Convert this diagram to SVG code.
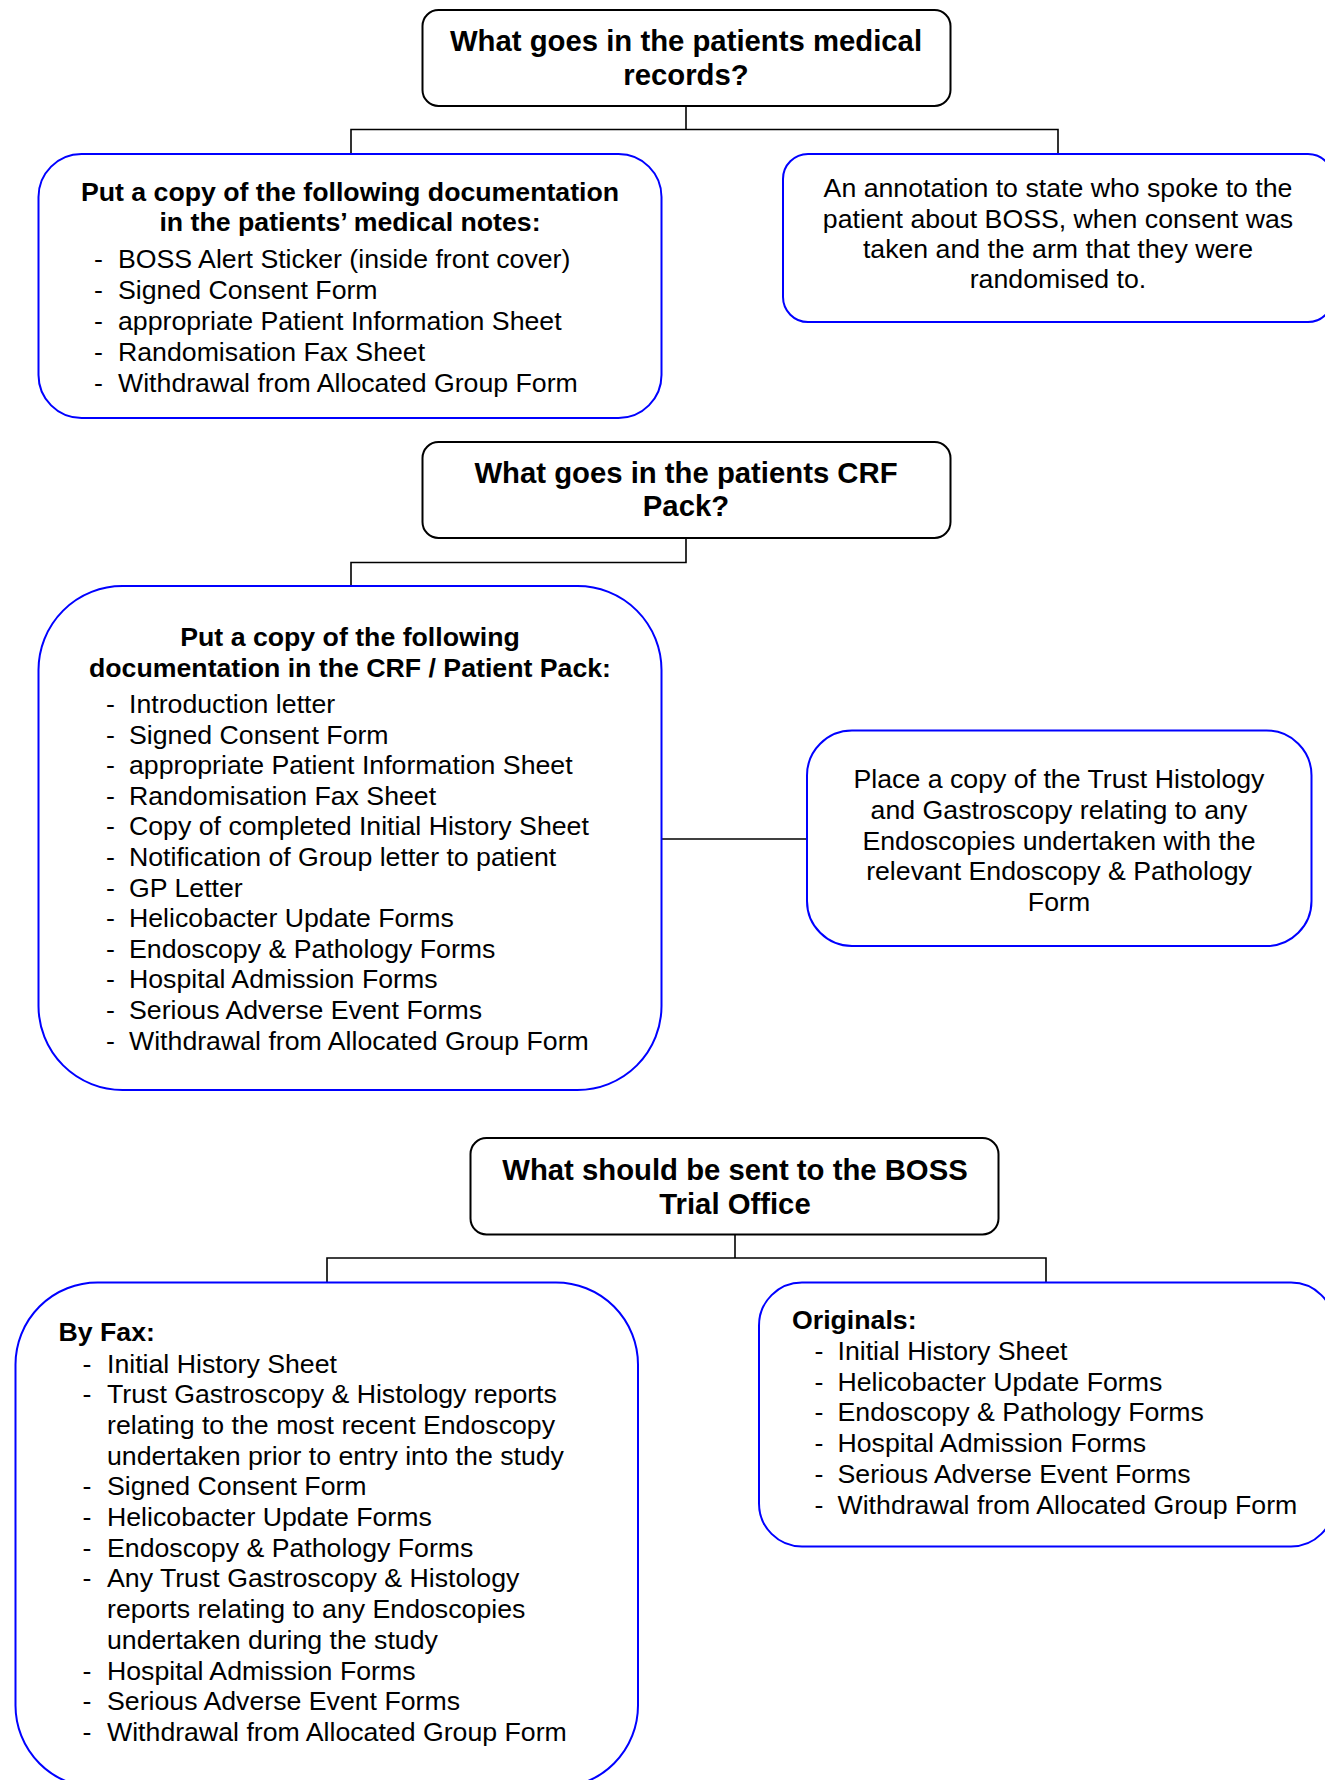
<svg xmlns="http://www.w3.org/2000/svg" width="1325" height="1780" viewBox="0 0 1325 1780">
<style>
.bg{fill:#ffffff}
.q{fill:#ffffff;stroke:#000000;stroke-width:2}
.b{fill:#ffffff;stroke:#0000ff;stroke-width:2}
.c{fill:none;stroke:#000000;stroke-width:1.6}
text{font-family:"Liberation Sans",Arial,sans-serif;fill:#000000}
.t{font-size:29.3px;font-weight:bold;text-anchor:middle}
.h{font-size:26.7px;font-weight:bold}
.hm{font-size:26.7px;font-weight:bold;text-anchor:middle}
.r{font-size:26.7px}
.rm{font-size:26.7px;text-anchor:middle}
</style>
<rect class="bg" x="0" y="0" width="1325" height="1780"/>
<g id="connectors">
<polyline class="c" points="686,106 686,129.5"/>
<polyline class="c" points="351,154 351,129.5 1058,129.5 1058,154"/>
<polyline class="c" points="686,538 686,562.5 351,562.5 351,586"/>
<polyline class="c" points="662,839 807,839"/>
<polyline class="c" points="735,1234.5 735,1258"/>
<polyline class="c" points="327,1282.5 327,1258 1046,1258 1046,1282.5"/>
</g>
<g id="q1">
<rect class="q" x="422.5" y="10" width="528" height="96" rx="16"/>
<text class="t" x="686" y="51">What goes in the patients medical</text>
<text class="t" x="686" y="84.5">records?</text>
</g>
<g id="a">
<rect class="b" x="38.5" y="154" width="623" height="264" rx="43"/>
<text class="hm" x="350" y="201">Put a copy of the following documentation</text>
<text class="hm" x="350" y="231">in the patients’ medical notes:</text>
<text class="r" x="94" y="268">-</text><text class="r" x="118" y="268">BOSS Alert Sticker (inside front cover)</text>
<text class="r" x="94" y="299">-</text><text class="r" x="118" y="299">Signed Consent Form</text>
<text class="r" x="94" y="330">-</text><text class="r" x="118" y="330">appropriate Patient Information Sheet</text>
<text class="r" x="94" y="361">-</text><text class="r" x="118" y="361">Randomisation Fax Sheet</text>
<text class="r" x="94" y="392">-</text><text class="r" x="118" y="392">Withdrawal from Allocated Group Form</text>
</g>
<g id="b">
<rect class="b" x="783" y="154" width="550" height="168" rx="25"/>
<text class="rm" x="1058" y="197">An annotation to state who spoke to the</text>
<text class="rm" x="1058" y="227.5">patient about BOSS, when consent was</text>
<text class="rm" x="1058" y="258">taken and the arm that they were</text>
<text class="rm" x="1058" y="288">randomised to.</text>
</g>
<g id="q2">
<rect class="q" x="422.5" y="442" width="528" height="96" rx="16"/>
<text class="t" x="686" y="483">What goes in the patients CRF</text>
<text class="t" x="686" y="516">Pack?</text>
</g>
<g id="c">
<rect class="b" x="38.5" y="586" width="623" height="504" rx="84"/>
<text class="hm" x="350" y="646">Put a copy of the following</text>
<text class="hm" x="350" y="677">documentation in the CRF / Patient Pack:</text>
<text class="r" x="106" y="713">-</text><text class="r" x="129" y="713">Introduction letter</text>
<text class="r" x="106" y="743.6">-</text><text class="r" x="129" y="743.6">Signed Consent Form</text>
<text class="r" x="106" y="774.2">-</text><text class="r" x="129" y="774.2">appropriate Patient Information Sheet</text>
<text class="r" x="106" y="804.8">-</text><text class="r" x="129" y="804.8">Randomisation Fax Sheet</text>
<text class="r" x="106" y="835.4">-</text><text class="r" x="129" y="835.4">Copy of completed Initial History Sheet</text>
<text class="r" x="106" y="866">-</text><text class="r" x="129" y="866">Notification of Group letter to patient</text>
<text class="r" x="106" y="896.6">-</text><text class="r" x="129" y="896.6">GP Letter</text>
<text class="r" x="106" y="927.2">-</text><text class="r" x="129" y="927.2">Helicobacter Update Forms</text>
<text class="r" x="106" y="957.8">-</text><text class="r" x="129" y="957.8">Endoscopy &amp; Pathology Forms</text>
<text class="r" x="106" y="988.4">-</text><text class="r" x="129" y="988.4">Hospital Admission Forms</text>
<text class="r" x="106" y="1019">-</text><text class="r" x="129" y="1019">Serious Adverse Event Forms</text>
<text class="r" x="106" y="1049.6">-</text><text class="r" x="129" y="1049.6">Withdrawal from Allocated Group Form</text>
</g>
<g id="d">
<rect class="b" x="807" y="730.5" width="504.5" height="215.5" rx="45"/>
<text class="rm" x="1059" y="788">Place a copy of the Trust Histology</text>
<text class="rm" x="1059" y="819">and Gastroscopy relating to any</text>
<text class="rm" x="1059" y="849.6">Endoscopies undertaken with the</text>
<text class="rm" x="1059" y="880.2">relevant Endoscopy &amp; Pathology</text>
<text class="rm" x="1059" y="910.8">Form</text>
</g>
<g id="q3">
<rect class="q" x="470.5" y="1138" width="528" height="96.5" rx="16"/>
<text class="t" x="735" y="1180">What should be sent to the BOSS</text>
<text class="t" x="735" y="1213.5">Trial Office</text>
</g>
<g id="e">
<rect class="b" x="15.5" y="1282.5" width="622.5" height="505" rx="82"/>
<text class="h" x="58.5" y="1341">By Fax:</text>
<text class="r" x="82.5" y="1372.5">-</text><text class="r" x="107" y="1372.5">Initial History Sheet</text>
<text class="r" x="82.5" y="1403.2">-</text><text class="r" x="107" y="1403.2">Trust Gastroscopy &amp; Histology reports</text>
<text class="r" x="107" y="1433.9">relating to the most recent Endoscopy</text>
<text class="r" x="107" y="1464.6">undertaken prior to entry into the study</text>
<text class="r" x="82.5" y="1495.3">-</text><text class="r" x="107" y="1495.3">Signed Consent Form</text>
<text class="r" x="82.5" y="1526">-</text><text class="r" x="107" y="1526">Helicobacter Update Forms</text>
<text class="r" x="82.5" y="1556.7">-</text><text class="r" x="107" y="1556.7">Endoscopy &amp; Pathology Forms</text>
<text class="r" x="82.5" y="1587.4">-</text><text class="r" x="107" y="1587.4">Any Trust Gastroscopy &amp; Histology</text>
<text class="r" x="107" y="1618.1">reports relating to any Endoscopies</text>
<text class="r" x="107" y="1648.8">undertaken during the study</text>
<text class="r" x="82.5" y="1679.5">-</text><text class="r" x="107" y="1679.5">Hospital Admission Forms</text>
<text class="r" x="82.5" y="1710.2">-</text><text class="r" x="107" y="1710.2">Serious Adverse Event Forms</text>
<text class="r" x="82.5" y="1740.9">-</text><text class="r" x="107" y="1740.9">Withdrawal from Allocated Group Form</text>
</g>
<g id="f">
<rect class="b" x="759" y="1282.5" width="575" height="264" rx="43"/>
<text class="h" x="792" y="1329">Originals:</text>
<text class="r" x="814.5" y="1360">-</text><text class="r" x="837.5" y="1360">Initial History Sheet</text>
<text class="r" x="814.5" y="1390.7">-</text><text class="r" x="837.5" y="1390.7">Helicobacter Update Forms</text>
<text class="r" x="814.5" y="1421.4">-</text><text class="r" x="837.5" y="1421.4">Endoscopy &amp; Pathology Forms</text>
<text class="r" x="814.5" y="1452.1">-</text><text class="r" x="837.5" y="1452.1">Hospital Admission Forms</text>
<text class="r" x="814.5" y="1482.8">-</text><text class="r" x="837.5" y="1482.8">Serious Adverse Event Forms</text>
<text class="r" x="814.5" y="1513.5">-</text><text class="r" x="837.5" y="1513.5">Withdrawal from Allocated Group Form</text>
</g>
</svg>
